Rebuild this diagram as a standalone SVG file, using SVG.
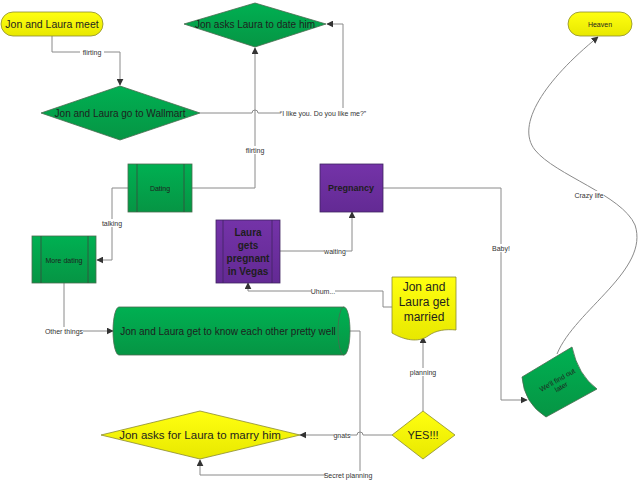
<svg xmlns="http://www.w3.org/2000/svg" width="640" height="480" viewBox="0 0 640 480">
<defs>
<linearGradient id="gG" x1="0" y1="0" x2="0" y2="1"><stop offset="0" stop-color="#00b052"/><stop offset="1" stop-color="#069544"/></linearGradient>
<linearGradient id="gY" x1="0" y1="0" x2="0" y2="1"><stop offset="0" stop-color="#ffff10"/><stop offset="1" stop-color="#e8e800"/></linearGradient>
<linearGradient id="gP" x1="0" y1="0" x2="0" y2="1"><stop offset="0" stop-color="#7433a8"/><stop offset="1" stop-color="#632a94"/></linearGradient>
<marker id="ar" viewBox="0 0 10 10" refX="9" refY="5" markerWidth="7" markerHeight="7" orient="auto" markerUnits="userSpaceOnUse"><path d="M0,0 L10,5 L0,10 Z" fill="#333"/></marker>
<style>
.g{fill:url(#gG);stroke:#4a6b4f;stroke-width:0.8}
.y{fill:url(#gY);stroke:#8a8a30;stroke-width:0.8}
.p{fill:url(#gP);stroke:#3f2560;stroke-width:0.8}
.in{fill:none;stroke:#3b4a3e;stroke-width:0.8}
.c{fill:none;stroke:#8a8a8a;stroke-width:1}
.ca{fill:none;stroke:#8a8a8a;stroke-width:1;marker-end:url(#ar)}
text{font-family:"Liberation Sans",Arial,sans-serif;fill:#1e1e1e;text-anchor:middle;dominant-baseline:central}
.lb{font-size:7px;fill:#333}
.bg{fill:#fff}
.t10{font-size:10px}
.s7{font-size:7px}
.b{font-weight:bold}
</style>
</defs>
<rect width="640" height="480" fill="#fff"/>
<g id="connectors">
<path class="ca" d="M52,36 V52 H120 V85"/>
<rect class="bg" x="80" y="48" width="24" height="8"/><text class="lb" x="92" y="52">flirting</text>
<path class="ca" d="M200,113 H252 a3,3 0 0 1 6,0 H343 V24 H327"/>
<rect class="bg" x="281" y="108" width="86" height="10"/><text class="lb" x="323" y="113">“I like you. Do you like me?”</text>
<path class="ca" d="M192,188 H255 V48"/>
<rect class="bg" x="243" y="146" width="24" height="8"/><text class="lb" x="255" y="150">flirting</text>
<path class="ca" d="M128,188 H112 V260 H97"/>
<rect class="bg" x="101" y="219" width="22" height="8"/><text class="lb" x="112" y="223">talking</text>
<path class="ca" d="M64,283 V331 H113"/>
<rect class="bg" x="45" y="327" width="38" height="8"/><text class="lb" x="64" y="331">Other things</text>
<path class="c" d="M350,331 H360 V475 H200"/>
<path class="ca" d="M200,475 V460"/>
<rect class="bg" x="326" y="471" width="46" height="8"/><text class="lb" x="348" y="475">Secret planning</text>
<path class="ca" d="M392,435 H363 a3,3 0 0 0 -6,0 H300"/>
<rect class="bg" x="334" y="431" width="16" height="8"/><text class="lb" x="342" y="435">gnats</text>
<path class="ca" d="M423,411 V337"/>
<rect class="bg" x="410" y="368" width="26" height="8"/><text class="lb" x="423" y="372">planning</text>
<path class="ca" d="M392,307 H383 V291 H248 V283"/>
<rect class="bg" x="311" y="287" width="24" height="8"/><text class="lb" x="323" y="291">Uhum...</text>
<path class="ca" d="M280,251 H352 V212"/>
<rect class="bg" x="324" y="247" width="22" height="8"/><text class="lb" x="335" y="251">waiting</text>
<path class="ca" d="M383,188 H501 V400 H527"/>
<rect class="bg" x="492" y="244" width="18" height="8"/><text class="lb" x="501" y="248">Baby!</text>
<path class="ca" d="M557,354 C575,310 650,270 635,225 C622,195 555,175 535,150 C515,125 545,80 598,37"/>
<rect class="bg" x="575" y="191" width="29" height="8"/><text class="lb" x="589" y="195">Crazy life</text>
</g>
<g id="n-meet"><rect class="y" x="1" y="12" width="102" height="24" rx="12"/><text font-size="10.5px" x="52" y="24">Jon and Laura meet</text></g>
<g id="n-date"><polygon class="g" points="184,24 255,3 326,24 255,47"/><text class="t10" x="255" y="24">Jon asks Laura to date him</text></g>
<g id="n-heaven"><rect class="y" x="568" y="12" width="64" height="24" rx="12"/><text class="s7" x="600" y="24">Heaven</text></g>
<g id="n-wallmart"><polygon class="g" points="41,113 120,86 200,113 120,140"/><text class="t10" x="120" y="113">Jon and Laura go to Wallmart</text></g>
<g id="n-dating"><rect class="g" x="128" y="164" width="64" height="48"/><path class="in" d="M137,164 V212 M184,164 V212"/><text class="s7" x="160" y="188">Dating</text></g>
<g id="n-pregnancy"><rect class="p" x="320" y="164" width="63" height="48"/><text class="b" font-size="9px" x="351" y="188">Pregnancy</text></g>
<g id="n-moredating"><rect class="g" x="32" y="236" width="64" height="47"/><path class="in" d="M41,236 V283 M88,236 V283"/><text class="s7" x="64" y="260">More dating</text></g>
<g id="n-vegas"><rect class="p" x="216" y="220" width="64" height="63"/><path class="in" d="M223,220 V283 M272,220 V283" style="stroke:#3f2560"/>
<text class="b" font-size="10px"><tspan x="248" y="232">Laura</tspan><tspan x="248" y="245">gets</tspan><tspan x="248" y="258">pregnant</tspan><tspan x="248" y="271">in Vegas</tspan></text></g>
<g id="n-married"><path class="y" d="M392,277 H456 V330 C446,329 436,330 428,336 C418,343 404,340 392,333 Z"/>
<text font-size="12px"><tspan x="424" y="287">Jon and</tspan><tspan x="424" y="302">Laura get</tspan><tspan x="424" y="317">married</tspan></text></g>
<g id="n-know"><path class="g" d="M119,307 H344 A6,24 0 0 1 344,355 H119 A6,24 0 0 1 119,307 Z"/><path class="in" d="M344,307 A6,24 0 0 0 344,355" style="stroke:#4a6b4f"/><text class="t10" x="228" y="331">Jon and Laura get to know each other pretty well</text></g>
<g id="n-later"><path class="g" d="M522,377 L572,347 Q578,375 597,389 L546,417 Q524,403 522,377 Z"/><text class="s7" transform="rotate(-30 559 383)"><tspan x="559" y="379">We'll find out</tspan><tspan x="559" y="387">later</tspan></text></g>
<g id="n-marry"><polygon class="y" points="101,435 200,411 300,435 200,459"/><text font-size="11.5px" x="200" y="435">Jon asks for Laura to marry him</text></g>
<g id="n-yes"><polygon class="y" points="392,435 423,411 455,435 423,459"/><text font-size="11px" x="423" y="435">YES!!!</text></g>
</svg>
